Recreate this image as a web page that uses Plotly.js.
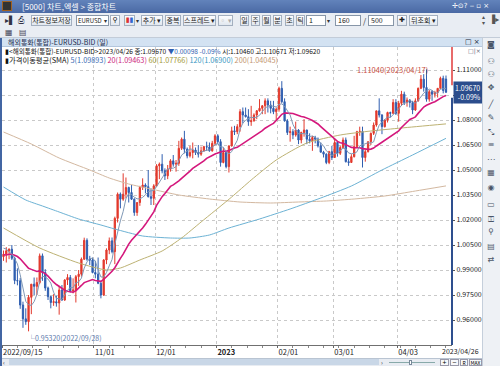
<!DOCTYPE html>
<html><head><meta charset="utf-8">
<script src="https://cdn.plot.ly/plotly-3.0.1.min.js"></script>
<style>
body{margin:0;width:500px;height:366px;overflow:hidden;background:#e8ecf2;position:relative;font-family:"Liberation Sans Narrow","Noto Sans CJK KR",sans-serif}
.a{position:absolute;box-sizing:border-box;white-space:nowrap}
.b{position:absolute;box-sizing:border-box;white-space:nowrap;top:15px;height:11px;border:1px solid #a3afbf;background:linear-gradient(#fdfdfe,#e1e7ef);font-size:7px;line-height:9px;text-align:center;color:#222;overflow:hidden}
.i{position:absolute;box-sizing:border-box;white-space:nowrap;top:15px;height:11px;border:1px solid #8796a8;background:#fff;font-size:7px;line-height:9px;padding-left:2px;color:#222;overflow:hidden}
.ic{position:absolute;left:484px;width:14px;text-align:center;font-family:"DejaVu Sans",sans-serif;font-size:8px;color:#4a5668}
</style></head><body>
<!-- window chrome -->
<div class="a" style="left:0;top:0;width:500px;height:13px;background:linear-gradient(#6283bb,#4a69a4)"></div>
<div class="a" style="left:2px;top:1px;width:10px;height:10px;background:#333;border:1px solid #a06020"></div>
<div class="a" style="left:22px;top:0;height:13px;line-height:13px;font-size:8px;color:#fff;font-family:'Noto Sans CJK KR',sans-serif">[5000] 차트,엑셀 &gt; 종합차트</div>
<div class="a" style="left:452px;top:0;height:13px;line-height:13px;font-size:7px;color:#fff;font-family:'DejaVu Sans',sans-serif">✢⊙? ‒ ▫ ×</div>
<div class="a" style="left:0;top:13px;width:500px;height:25px;background:#e9edf3;border-bottom:1px solid #c3ccd8"></div>
<div class="a" style="left:5px;top:16px;font-size:8px;color:#334;font-family:'DejaVu Sans'">▸▌</div>
<div class="a" style="left:18px;top:16px;font-size:8px;color:#334;font-family:'DejaVu Sans'">⎙</div>
<div class="b" style="left:31px;width:41px;font-family:'Noto Sans CJK KR'">차트정보저장</div>
<div class="i" style="left:76px;width:26px;font-size:6px;padding-left:1px;border-right:none">EURUSD</div>
<div class="a" style="left:102px;top:15px;width:7px;height:11px;border:1px solid #8796a8;border-left:none;background:#fff;font-size:6px;line-height:9px;color:#333;text-align:center">▾</div>
<div class="b" style="left:110px;width:10px;font-family:'DejaVu Sans'">⚲</div>
<div class="b" style="left:124px;width:11px;color:#d33;font-family:'DejaVu Sans'">▮<span style="color:#36c">▮</span></div>
<div class="a" style="left:136px;top:16px;font-size:6px;color:#333">▾</div>
<div class="b" style="left:141px;width:22px;font-family:'Noto Sans CJK KR'">추가 ▾</div>
<div class="b" style="left:165px;width:16px;font-family:'Noto Sans CJK KR'">중복</div>
<div class="b" style="left:183px;width:33px;font-family:'Noto Sans CJK KR'">스프레드 ▾</div>
<div class="b" style="left:218px;width:15px;color:#aaa">▫ ▾</div>
<div class="b" style="left:240px;width:9px;font-family:'Noto Sans CJK KR'">일</div>
<div class="b" style="left:251px;width:9px;font-family:'Noto Sans CJK KR'">주</div>
<div class="b" style="left:262px;width:9px;font-family:'Noto Sans CJK KR'">월</div>
<div class="b" style="left:273px;width:9px;font-family:'Noto Sans CJK KR'">분</div>
<div class="b" style="left:285px;width:9px;font-family:'Noto Sans CJK KR'">초</div>
<div class="b" style="left:296px;width:9px;font-family:'Noto Sans CJK KR'">틱</div>
<div class="i" style="left:306px;width:20px">1</div>
<div class="a" style="left:327px;top:16px;font-size:6px;color:#333">▾</div>
<div class="i" style="left:335px;width:26px">160</div>
<div class="a" style="left:363px;top:15px;font-size:8px;color:#333">/</div>
<div class="i" style="left:368px;width:26px">500</div>
<div class="b" style="left:397px;width:10px;font-family:'DejaVu Sans'">✚</div>
<div class="b" style="left:409px;width:29px;font-family:'Noto Sans CJK KR'">뒤조회 ▾</div>
<div class="a" style="left:482px;top:14px;font-size:6px;color:#555;line-height:6px;font-family:'DejaVu Sans'">▴<br>▾</div>
<div class="a" style="left:489px;top:15px;font-size:8px;color:#555;font-family:'DejaVu Sans'">▐▸</div>
<div class="a" style="left:5px;top:28px;font-size:8px;color:#445;font-family:'DejaVu Sans'">▦</div>
<div class="a" style="left:19px;top:28px;font-size:8px;color:#445;font-family:'DejaVu Sans'">▤</div>
<!-- pane header -->
<div class="a" style="left:2px;top:38px;width:480px;height:9px;background:#d3e2f2;border-bottom:1px solid #b3c6dc"></div>
<div class="a" style="left:8px;top:38px;height:9px;line-height:9px;font-size:7px;color:#1c2c4c">해외통화(통합)-EURUSD-BID (일)</div>
<div class="a" style="left:465px;top:38px;height:9px;line-height:9px;font-size:7px;color:#223;font-family:'DejaVu Sans'">□ ×</div>
<div class="a" style="left:0;top:38px;width:2px;height:328px;background:#4366a3"></div>
<!-- right tool column -->
<div class="a" style="left:482px;top:38px;width:18px;height:328px;background:#eef1f5;border-left:1px solid #c5cfdb"></div>
<div class="ic" style="top:40px">◙</div><div class="ic" style="top:57px">⚇</div><div class="ic" style="top:70px">⚇</div>
<div class="ic" style="top:83px">✥</div><div class="ic" style="top:100px">╱</div><div class="ic" style="top:113px">✎</div>
<div class="ic" style="top:128px">⤡</div><div class="ic" style="top:140px">≡</div><div class="ic" style="top:155px">⋯</div>
<div class="ic" style="top:168px">▦</div><div class="ic" style="top:183px">◉</div><div class="ic" style="top:200px">▭</div>
<div class="ic" style="top:215px">⚿</div><div class="ic" style="top:227px">⚲</div><div class="ic" style="top:242px">▤</div>
<div class="ic" style="top:255px">⇄</div>
<!-- bottom scroll row -->
<div class="a" style="left:2px;top:358px;width:480px;height:8px;background:#e8ecf2;border-top:1px solid #b9c4d2"></div>
<div class="a" style="left:3px;top:359px;font-size:6px;line-height:7px;color:#333">‹</div>
<div class="a" style="left:9px;top:359px;width:370px;height:6px;background:#c9d7e7"></div>
<div class="a" style="left:381px;top:359px;font-size:6px;line-height:7px;color:#333">›</div>
<div class="a" style="left:389px;top:362px;width:46px;height:1px;background:#8aa"></div>
<div class="a" style="left:409px;top:360px;width:3px;height:5px;background:#fff;border:1px solid #789"></div>
<div class="a" style="left:440px;top:359px;width:9px;height:7px;border:1px solid #99a;background:#f7f8fa;font-size:7px;line-height:5px;text-align:center">+</div>
<div class="a" style="left:450px;top:359px;width:9px;height:7px;border:1px solid #99a;background:#f7f8fa;font-size:7px;line-height:5px;text-align:center">−</div>
<div class="a" style="left:460px;top:359px;width:8px;height:7px;border:1px solid #99a;background:#f7f8fa;font-size:5px;line-height:5px;text-align:center">R</div>
<div class="a" style="left:469px;top:359px;width:13px;height:7px;border:1px solid #99a;background:#f7f8fa;font-size:5px;line-height:5px;text-align:center">MAX</div>
<div id="chart" class="a" style="left:2px;top:47px;width:480px;height:311px"></div>
<script>
// ---- data: daily EURUSD bid candles ----
const dates = [
"2022/09/15","2022/09/16","2022/09/19","2022/09/20","2022/09/21","2022/09/22","2022/09/23","2022/09/26","2022/09/27","2022/09/28","2022/09/29","2022/09/30",
"2022/10/03","2022/10/04","2022/10/05","2022/10/06","2022/10/07","2022/10/10","2022/10/11","2022/10/12","2022/10/13","2022/10/14","2022/10/17","2022/10/18","2022/10/19","2022/10/20","2022/10/21","2022/10/24","2022/10/25","2022/10/26","2022/10/27","2022/10/28","2022/10/31",
"2022/11/01","2022/11/02","2022/11/03","2022/11/04","2022/11/07","2022/11/08","2022/11/09","2022/11/10","2022/11/11","2022/11/14","2022/11/15","2022/11/16","2022/11/17","2022/11/18","2022/11/21","2022/11/22","2022/11/23","2022/11/24","2022/11/25","2022/11/28","2022/11/29","2022/11/30",
"2022/12/01","2022/12/02","2022/12/05","2022/12/06","2022/12/07","2022/12/08","2022/12/09","2022/12/12","2022/12/13","2022/12/14","2022/12/15","2022/12/16","2022/12/19","2022/12/20","2022/12/21","2022/12/22","2022/12/23","2022/12/26","2022/12/27","2022/12/28","2022/12/29","2022/12/30",
"2023/01/02","2023/01/03","2023/01/04","2023/01/05","2023/01/06","2023/01/09","2023/01/10","2023/01/11","2023/01/12","2023/01/13","2023/01/16","2023/01/17","2023/01/18","2023/01/19","2023/01/20","2023/01/23","2023/01/24","2023/01/25","2023/01/26","2023/01/27","2023/01/30","2023/01/31",
"2023/02/01","2023/02/02","2023/02/03","2023/02/06","2023/02/07","2023/02/08","2023/02/09","2023/02/10","2023/02/13","2023/02/14","2023/02/15","2023/02/16","2023/02/17","2023/02/20","2023/02/21","2023/02/22","2023/02/23","2023/02/24","2023/02/27","2023/02/28",
"2023/03/01","2023/03/02","2023/03/03","2023/03/06","2023/03/07","2023/03/08","2023/03/09","2023/03/10","2023/03/13","2023/03/14","2023/03/15","2023/03/16","2023/03/17","2023/03/20","2023/03/21","2023/03/22","2023/03/23","2023/03/24","2023/03/27","2023/03/28","2023/03/29","2023/03/30","2023/03/31",
"2023/04/03","2023/04/04","2023/04/05","2023/04/06","2023/04/07","2023/04/10","2023/04/11","2023/04/12","2023/04/13","2023/04/14","2023/04/17","2023/04/18","2023/04/19","2023/04/20","2023/04/21","2023/04/24","2023/04/25","2023/04/26"];

const opens = [
0.9980,0.9995,1.0015,1.0025,0.9970,0.9837,0.9835,0.9690,0.9607,0.9590,0.9736,0.9815,
0.9802,0.9825,0.9985,0.9885,0.9792,0.9740,0.9705,0.9710,0.9702,0.9780,0.9720,0.9840,0.9855,0.9775,0.9780,0.9860,0.9875,0.9965,1.0078,0.9965,0.9960,
0.9885,0.9875,0.9820,0.9750,0.9960,1.0020,1.0075,1.0010,1.0210,1.0355,1.0325,1.0355,1.0395,1.0365,1.0325,1.0245,1.0305,1.0395,1.0410,1.0400,1.0340,1.0330,
1.0405,1.0525,1.0535,1.0495,1.0465,1.0505,1.0555,1.0535,1.0540,1.0630,1.0685,1.0625,1.0585,1.0605,1.0620,1.0605,1.0595,1.0615,1.0640,1.0638,1.0615,1.0660,
1.0705,1.0670,1.0545,1.0605,1.0520,1.0645,1.0735,1.0730,1.0760,1.0850,1.0830,1.0820,1.0790,1.0795,1.0830,1.0855,1.0870,1.0885,1.0915,1.0890,1.0870,1.0850,
1.0865,1.0990,1.0910,1.0795,1.0725,1.0730,1.0710,1.0740,1.0680,1.0725,1.0740,1.0685,1.0675,1.0695,1.0685,1.0645,1.0607,1.0595,1.0545,1.0610,
1.0575,1.0665,1.0600,1.0635,1.0680,1.0550,1.0545,1.0580,1.0640,1.0730,1.0732,1.0575,1.0610,1.0670,1.0720,1.0770,1.0855,1.0830,1.0760,1.0800,1.0845,1.0840,1.0905,
1.0840,1.0900,1.0955,1.0905,1.0920,1.0905,1.0860,1.0915,1.0990,1.1045,1.0995,1.0925,1.0970,1.0955,1.0965,1.0990,1.1050,1.1046];
const highs = [
1.0017,1.0037,1.0030,1.0050,0.9980,0.9910,0.9852,0.9710,0.9670,0.9750,0.9815,0.9855,
0.9855,0.9999,0.9999,0.9905,0.9800,0.9745,0.9755,0.9745,0.9805,0.9810,0.9845,0.9875,0.9870,0.9850,0.9870,0.9900,0.9975,1.0094,1.0090,0.9985,0.9975,
0.9955,0.9975,0.9835,0.9965,1.0030,1.0095,1.0095,1.0220,1.0365,1.0365,1.0480,1.0455,1.0400,1.0410,1.0330,1.0305,1.0405,1.0450,1.0420,1.0500,1.0390,1.0415,
1.0535,1.0545,1.0595,1.0510,1.0530,1.0565,1.0590,1.0560,1.0675,1.0695,1.0735,1.0635,1.0645,1.0665,1.0635,1.0650,1.0640,1.0645,1.0670,1.0665,1.0675,1.0715,
1.0715,1.0685,1.0635,1.0615,1.0645,1.0760,1.0765,1.0775,1.0865,1.0875,1.0875,1.0865,1.0885,1.0840,1.0860,1.0925,1.0890,1.0930,1.0930,1.0915,1.0915,1.0875,
1.1000,1.1033,1.0930,1.0805,1.0760,1.0745,1.0790,1.0745,1.0730,1.0805,1.0742,1.0720,1.0705,1.0705,1.0695,1.0665,1.0615,1.0600,1.0615,1.0645,
1.0690,1.0667,1.0645,1.0695,1.0695,1.0570,1.0595,1.0705,1.0735,1.0760,1.0760,1.0620,1.0670,1.0725,1.0785,1.0855,1.0930,1.0835,1.0805,1.0850,1.0850,1.0925,1.0925,
1.0915,1.0975,1.0970,1.0935,1.0925,1.0915,1.0930,1.0995,1.1070,1.1075,1.1104,1.0980,1.0980,1.0975,1.0990,1.1060,1.1066,1.1067];
const lows = [
0.9955,0.9945,0.9965,0.9960,0.9815,0.9808,0.9667,0.9553,0.9571,0.9532,0.9635,0.9750,
0.9750,0.9815,0.9835,0.9775,0.9720,0.9670,0.9685,0.9680,0.9632,0.9715,0.9715,0.9810,0.9765,0.9760,0.9705,0.9805,0.9860,0.9960,0.9955,0.9930,0.9880,
0.9850,0.9815,0.9730,0.9745,0.9935,0.9995,1.0000,0.9935,1.0185,1.0270,1.0315,1.0330,1.0305,1.0320,1.0225,1.0225,1.0285,1.0380,1.0360,1.0335,1.0290,1.0290,
1.0400,1.0445,1.0480,1.0440,1.0445,1.0490,1.0520,1.0490,1.0525,1.0620,1.0600,1.0570,1.0575,1.0570,1.0590,1.0575,1.0585,1.0610,1.0615,1.0610,1.0610,1.0645,
1.0655,1.0520,1.0540,1.0510,1.0485,1.0640,1.0710,1.0715,1.0730,1.0780,1.0815,1.0765,1.0765,1.0790,1.0805,1.0850,1.0835,1.0835,1.0845,1.0840,1.0835,1.0800,
1.0850,1.0900,1.0790,1.0710,1.0670,1.0685,1.0700,1.0655,1.0660,1.0700,1.0655,1.0660,1.0615,1.0660,1.0635,1.0605,1.0575,1.0535,1.0535,1.0560,
1.0575,1.0580,1.0590,1.0630,1.0545,1.0525,1.0545,1.0575,1.0635,1.0705,1.0515,1.0550,1.0605,1.0650,1.0710,1.0760,1.0815,1.0715,1.0755,1.0785,1.0815,1.0835,1.0830,
1.0790,1.0885,1.0890,1.0880,1.0875,1.0835,1.0855,1.0910,1.0985,1.0970,1.0910,1.0910,1.0915,1.0935,1.0935,1.0985,1.0960,1.0962];
const closes = [
0.9995,1.0015,1.0025,0.9970,0.9837,0.9835,0.9690,0.9607,0.9590,0.9736,0.9815,0.9802,
0.9825,0.9985,0.9885,0.9792,0.9740,0.9705,0.9710,0.9702,0.9780,0.9720,0.9840,0.9855,0.9775,0.9780,0.9860,0.9875,0.9965,1.0078,0.9965,0.9960,0.9885,
0.9875,0.9820,0.9750,0.9960,1.0020,1.0075,1.0010,1.0210,1.0355,1.0325,1.0355,1.0395,1.0365,1.0325,1.0245,1.0305,1.0395,1.0410,1.0400,1.0340,1.0330,1.0405,
1.0525,1.0535,1.0495,1.0465,1.0505,1.0555,1.0535,1.0540,1.0630,1.0685,1.0625,1.0585,1.0605,1.0620,1.0605,1.0595,1.0615,1.0640,1.0638,1.0615,1.0660,1.0705,
1.0670,1.0545,1.0605,1.0520,1.0645,1.0735,1.0730,1.0760,1.0850,1.0830,1.0820,1.0790,1.0795,1.0830,1.0855,1.0870,1.0885,1.0915,1.0890,1.0870,1.0850,1.0865,
1.0990,1.0910,1.0795,1.0725,1.0730,1.0710,1.0740,1.0680,1.0725,1.0740,1.0685,1.0675,1.0695,1.0685,1.0645,1.0607,1.0595,1.0545,1.0610,1.0575,
1.0665,1.0600,1.0635,1.0680,1.0550,1.0545,1.0580,1.0640,1.0730,1.0732,1.0575,1.0610,1.0670,1.0720,1.0770,1.0855,1.0830,1.0760,1.0800,1.0845,1.0840,1.0905,1.0840,
1.0900,1.0955,1.0905,1.0920,1.0905,1.0860,1.0915,1.0990,1.1045,1.0995,1.0925,1.0970,1.0955,1.0965,1.0990,1.1050,1.0977,1.0967];
// closes of the 19 sessions before the window (for the 5/20 moving averages)
const priorCloses = [1.0040,0.9940,0.9970,0.9970,0.9975,0.9965,1.0000,1.0015,1.0055,0.9945,0.9955,0.9930,0.9905,1.0010,1.0000,1.0040,1.0120,1.0020,0.9980];

// long moving averages (session date, value)
const sma60Dates  = ["2022/09/15","2022/10/04","2022/10/24","2022/11/07","2022/11/14","2022/11/23","2022/12/05","2022/12/14","2022/12/23","2023/01/09","2023/01/18","2023/01/31","2023/02/15","2023/03/03","2023/03/20","2023/04/04","2023/04/26"];
const sma60Vals   = [1.0152,1.0032,0.9942,0.9900,0.9912,0.9960,1.0014,1.0092,1.0188,1.0338,1.0440,1.0560,1.0662,1.0710,1.0734,1.0752,1.07766];
const sma120Dates = ["2022/09/15","2022/09/27","2022/10/05","2022/10/13","2022/10/24","2022/11/03","2022/11/10","2022/11/24","2022/12/08","2022/12/19","2022/12/28","2023/01/06","2023/01/23","2023/02/07","2023/02/22","2023/03/09","2023/03/24","2023/04/10","2023/04/26"];
const sma120Vals  = [1.0398,1.0320,1.0284,1.0248,1.0206,1.0170,1.0146,1.0104,1.0092,1.0092,1.0110,1.0152,1.0206,1.0266,1.0332,1.0404,1.0500,1.0590,1.0690];
const sma200Dates = ["2022/09/15","2022/09/29","2022/10/13","2022/10/28","2022/11/08","2022/11/17","2022/11/29","2022/12/13","2022/12/28","2023/01/12","2023/01/27","2023/02/10","2023/02/24","2023/03/10","2023/03/27","2023/04/11","2023/04/26"];
const sma200Vals  = [1.0728,1.0656,1.0572,1.0500,1.0452,1.0416,1.0386,1.0350,1.0326,1.0308,1.0302,1.0308,1.0314,1.0326,1.0344,1.0374,1.04045];

const tickDates  = ["2022/09/15","2022/11/01","2022/12/01","2023/01/02","2023/02/01","2023/03/01","2023/04/03"];
const tickLabels = ["2022/09/15","11/01","12/01","<b>2023</b>","02/01","03/01","04/03"];
const lastLabel  = "2023/04/26";
const yTickVals  = [0.96,0.975,0.99,1.005,1.02,1.035,1.05,1.065,1.08,1.095,1.11];

const legendHead = "▮&lt;해외통화(통합)-EURUSD-BID&gt;2023/04/26 종:1.09670 ";
const legendChg  = "▼0.00098 -0.09%";
const legendTail = " 시:1.10460 고:1.10671 저:1.09620";
const smaNames   = ["5(1.09893)","20(1.09463)","60(1.07766)","120(1.06900)","200(1.04045)"];
const smaColors  = ["#3b6db4","#cc1f7c","#a49a3c","#3d9ac3","#c4976f"];

// ---- build ----
const idx = dates.map((d, i) => i);
const pos = ds => ds.map(d => dates.indexOf(d));
const allCloses = priorCloses.concat(closes);
function sma(n) {
  return closes.map((c, i) => {
    const end = i + priorCloses.length;
    let s = 0;
    for (let k = end - n + 1; k <= end; k++) s += allCloses[k];
    return s / n;
  });
}
const F = "Liberation Sans Narrow, Noto Sans CJK KR, sans-serif";
const lowI = lows.indexOf(Math.min(...lows));
const highI = highs.indexOf(Math.max(...highs));
const fmt = v => v.toFixed(5);
const lastClose = closes[closes.length - 1];
// the current-price box covers the tick label next to it
const yTickText = yTickVals.map(v => Math.abs(v - lastClose) < 0.003 ? '' : fmt(v));

const traces = [
  {type:'scatter', mode:'lines', x:pos(sma200Dates), y:sma200Vals, line:{color:'#d3b8a0', width:1, shape:'spline', smoothing:0.6}, hoverinfo:'skip'},
  {type:'scatter', mode:'lines', x:pos(sma120Dates), y:sma120Vals, line:{color:'#6cb2d4', width:1, shape:'spline', smoothing:0.6}, hoverinfo:'skip'},
  {type:'scatter', mode:'lines', x:pos(sma60Dates), y:sma60Vals, line:{color:'#bdb273', width:1, shape:'spline', smoothing:0.6}, hoverinfo:'skip'},
  {type:'candlestick', x:idx, open:opens, high:highs, low:lows, close:closes,
   increasing:{line:{color:'#e2392c', width:1}, fillcolor:'#e2392c'},
   decreasing:{line:{color:'#2f5eb0', width:1}, fillcolor:'#2f5eb0'},
   whiskerwidth:0, hoverinfo:'skip'},
  {type:'scatter', mode:'lines', x:idx, y:sma(20), line:{color:'#d4177c', width:1.6}, hoverinfo:'skip'},
  {type:'scatter', mode:'lines', x:idx, y:sma(5), line:{color:'#7f98b6', width:1}, hoverinfo:'skip'}
];

const layout = {
  width:480, height:311,
  margin:{l:0, r:30, t:0, b:13},
  paper_bgcolor:'#ffffff', plot_bgcolor:'#ffffff',
  showlegend:false,
  boxgap:0.35,
  xaxis:{
    type:'linear', range:[-0.54, 161.16], fixedrange:true,
    rangeslider:{visible:false},
    tickmode:'array', tickvals:pos(tickDates).map(v => v - 0.5), ticktext:tickLabels,
    ticklabelposition:'outside right',
    ticks:'outside', ticklen:2, tickcolor:'#666',
    showgrid:true, gridcolor:'#c9c9c9', griddash:'dot', gridwidth:1,
    showline:true, linecolor:'#707070', linewidth:1, zeroline:false,
    tickfont:{family:F, size:7.5, color:'#222'},
    minor:{tick0:-0.5, dtick:5.5, ticks:'outside', ticklen:2, tickcolor:'#888', showgrid:false}
  },
  yaxis:{
    side:'right', range:[0.945, 1.1238], fixedrange:true,
    tickmode:'array', tickvals:yTickVals, ticktext:yTickText,
    ticks:'outside', ticklen:2, tickcolor:'#555',
    showgrid:true, gridcolor:'#c9c9c9', griddash:'dot', gridwidth:1,
    showline:false, zeroline:false,
    tickfont:{family:F, size:7, color:'#222'}
  },
  shapes:[
    {type:'line', xref:'paper', yref:'paper', x0:1, x1:1, y0:0.872, y1:1, line:{color:'#e03a3a', width:1.5}},
    {type:'line', xref:'paper', yref:'paper', x0:1, x1:1, y0:0, y1:0.83, line:{color:'#2e4f8e', width:2}}
  ],
  annotations:[
    {xref:'paper', yref:'paper', x:0.002, y:0.988, xanchor:'left', yanchor:'middle', showarrow:false,
     font:{family:F, size:6.6, color:'#111'},
     text: legendHead + '<span style="color:#2f5eb0">' + legendChg + '</span>' + legendTail},
    {xref:'paper', yref:'paper', x:0.002, y:0.957, xanchor:'left', yanchor:'middle', showarrow:false,
     font:{family:F, size:7.3, color:'#111'},
     text: '▮가격이동평균(SMA) ' + smaNames.map((s, k) => '<span style="color:' + smaColors[k] + '">' + s + '</span>').join(' ')},
    {xref:'paper', yref:'paper', x:1.03, y:0.988, xanchor:'left', yanchor:'middle', showarrow:false,
     font:{family:'DejaVu Sans', size:6, color:'#667'}, text:'□|×'},
    {xref:'x', yref:'y', x:highI, y:highs[highI], showarrow:true, ax:-34, ay:0,
     arrowhead:2, arrowsize:0.7, arrowwidth:0.8, arrowcolor:'#c8503f',
     font:{family:F, size:7.5, color:'#c8503f'}, text: fmt(highs[highI]) + '(' + dates[highI] + ')'},
    {xref:'x', yref:'y', x:lowI, y:lows[lowI], xanchor:'left', yanchor:'top', showarrow:false, xshift:-3, yshift:0,
     font:{family:F, size:7, color:'#5a78aa'}, text: '└' + fmt(lows[lowI]) + '(' + dates[lowI] + ')'},
    {xref:'paper', yref:'y', x:1, y:lastClose, xanchor:'left', yanchor:'middle', xshift:1, showarrow:false,
     bgcolor:'#2b4d8c', borderpad:1, align:'right',
     font:{family:F, size:7, color:'#ffffff'}, text: fmt(lastClose) + '<br>-0.09%'},
    {xref:'paper', yref:'paper', x:1.064, y:-0.02, xanchor:'right', yanchor:'middle', showarrow:false,
     font:{family:F, size:7, color:'#222'}, text:lastLabel}
  ]
};
Plotly.newPlot('chart', traces, layout, {staticPlot:true, displayModeBar:false});
</script>
</body></html>
